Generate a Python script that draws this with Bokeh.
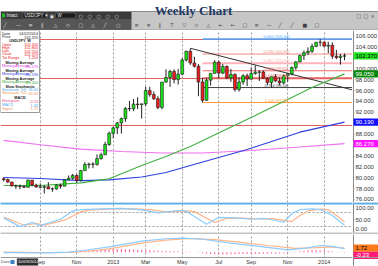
from bokeh.plotting import figure
from bokeh.models import (Range1d, FixedTicker, Grid, ColumnDataSource)
from bokeh.layouts import column, row
from bokeh.embed import file_html
from bokeh.resources import INLINE
from bokeh.core.properties import value

FONT = "Liberation Sans"

# ---------------- data (weekly USD/JPY bars, first bar = week of 2012-07-01) -------------
open_ = [79.80, 79.65, 79.20, 78.50, 78.45, 78.40, 78.25, 79.55, 78.65, 78.30,
         78.25, 78.35, 77.95, 77.95, 78.65, 78.45, 79.60, 79.90, 80.40, 79.50,
         81.30, 82.40, 82.50, 82.45, 83.50, 84.20, 86.10, 88.15, 89.15, 90.05,
         90.85, 92.70, 92.65, 93.50, 93.40, 93.55, 96.00, 95.25, 94.50, 92.90,
         97.55, 98.40, 99.50, 98.00, 99.00, 101.60, 103.20, 101.05, 100.45, 97.55,
         94.20, 97.90, 99.15, 101.20, 99.20, 100.40, 98.30, 98.95, 96.20, 97.55,
         98.70, 98.10, 99.10, 99.35, 99.40, 98.25, 97.45, 98.55, 97.75, 97.40,
         98.70, 99.05, 100.20, 101.25, 102.40, 102.95, 103.20, 104.10, 104.85, 104.85,
         104.15, 104.30, 102.30, 102.05, 102.30]
high = [80.05, 79.85, 79.25, 78.75, 78.75, 78.60, 79.65, 79.60, 78.90, 78.95,
        78.60, 79.20, 78.20, 78.80, 78.90, 79.70, 80.40, 80.70, 80.65, 81.45,
        82.85, 82.75, 82.85, 84.25, 84.60, 86.60, 88.45, 89.35, 90.25, 91.05,
        92.95, 94.10, 94.45, 94.75, 93.55, 96.70, 96.70, 95.80, 94.95, 97.55,
        99.90, 99.80, 99.90, 99.95, 101.95, 103.30, 103.75, 102.20, 100.85, 98.30,
        98.30, 99.15, 101.55, 101.50, 100.85, 100.60, 99.95, 99.15, 98.40, 99.00,
        99.10, 100.25, 100.60, 99.70, 99.70, 98.45, 98.60, 99.00, 98.45, 98.95,
        99.20, 100.40, 101.40, 102.60, 103.35, 103.90, 104.60, 104.85, 105.45, 105.00,
        104.95, 104.85, 103.45, 102.70, 102.80]
low = [79.30, 79.05, 78.40, 77.95, 77.90, 78.10, 78.20, 78.40, 78.15, 78.10,
       77.10, 77.95, 77.40, 77.80, 78.00, 78.45, 79.55, 79.65, 79.05, 79.30,
       81.30, 81.70, 81.75, 82.20, 83.30, 84.20, 85.85, 87.25, 88.00, 88.10,
       90.25, 92.20, 92.20, 92.60, 90.85, 93.10, 94.85, 94.25, 92.55, 92.55,
       97.45, 96.65, 97.30, 97.10, 98.80, 101.30, 100.70, 100.20, 94.95, 93.80,
       94.10, 96.90, 99.10, 98.20, 99.00, 98.10, 97.60, 95.80, 95.80, 97.05,
       96.80, 98.00, 98.90, 97.75, 98.20, 96.95, 96.55, 97.60, 96.95, 97.15,
       97.60, 98.80, 99.80, 101.20, 101.60, 102.50, 102.90, 103.95, 104.10, 103.90,
       102.85, 101.80, 101.75, 100.75, 101.55]
close = [79.65, 79.20, 78.50, 78.45, 78.40, 78.25, 79.55, 78.65, 78.30, 78.25,
         78.35, 77.95, 77.95, 78.65, 78.45, 79.60, 79.90, 80.40, 79.50, 81.30,
         82.40, 82.50, 82.45, 83.50, 84.20, 86.10, 88.15, 89.15, 90.05, 90.85,
         92.70, 92.65, 93.50, 93.40, 93.55, 96.00, 95.25, 94.50, 92.90, 97.55,
         98.40, 99.50, 98.00, 99.00, 101.60, 103.20, 101.05, 100.45, 97.55, 94.20,
         97.90, 99.15, 101.20, 99.20, 100.40, 98.30, 98.95, 96.20, 97.55, 98.70,
         98.10, 99.10, 99.35, 99.40, 98.25, 97.45, 98.55, 97.75, 97.40, 98.70,
         99.05, 100.20, 101.25, 102.40, 102.95, 103.20, 104.10, 104.85, 104.85, 104.15,
         104.30, 102.30, 102.05, 102.30, 102.37]

month_idx = [9, 18, 27, 35, 44, 53, 61, 70, 79]
month_lbl = ["Sep", "Nov", "2013", "Mar", "May", "Jul", "Sep", "Nov", "2014"]

price_ticks = [76, 78, 80, 82, 84, 88, 92, 94, 96, 98, 100, 104, 106]
stoch_ticks = [0, 50, 100]

# moving averages (read at bar indices)
ma_green_idx = [0, 9, 19, 26, 34, 40, 46, 62, 76, 84]
ma_green = [78.57, 78.57, 79.06, 79.80, 82.24, 83.89, 85.72, 91.41, 96.55, 99.05]
ma_blue_idx = [0, 9, 19, 26, 34, 40, 46, 60, 73, 84]
ma_blue = [80.04, 79.85, 79.48, 79.60, 80.13, 80.95, 82.24, 85.17, 88.35, 90.19]
ma_mag_idx = [0, 9, 19, 29, 39, 49, 61, 73, 84]
ma_mag = [86.86, 86.05, 85.25, 84.81, 84.53, 84.53, 84.99, 85.63, 86.27]

# horizontal lines
hlines = [105.30, 98.25, 89.60]
fib_start = 49
fib_levels = [105.44, 102.69, 100.99, 99.62, 98.24, 96.54, 93.79]
fib_ratio = ["0.000", "0.236", "0.382", "0.500", "0.618", "0.764", "1.000"]
trend_idx = [46, 86.0]
trend_val = [103.75, 96.10]

# slow stochastic
stoch_k_idx = [0, 4, 7, 9, 14, 17, 19, 24, 29, 34, 38, 43, 45, 50, 53, 57, 61, 64, 66, 69, 71, 73, 76, 78, 81, 84]
stoch_k = [58, 20, 38, 24, 52, 88, 94, 97, 99, 93, 80, 90, 87, 30, 60, 58, 52, 56, 51, 39, 76, 94, 97, 94, 68, 26]
stoch_d_idx = [0, 5, 8, 10, 15, 19, 21, 26, 31, 36, 40, 45, 47, 52, 55, 59, 63, 66, 68, 71, 73, 75, 78, 80, 83, 84]
stoch_d = [62, 26, 34, 26, 48, 84, 92, 96, 98, 94, 84, 88, 85, 38, 56, 57, 53, 55, 50, 42, 68, 88, 96, 94, 55, 40]

# MACD
macd_idx = [0, 10, 16, 20, 26, 34, 40, 44, 49, 56, 63, 70, 74, 78, 81, 84]
macd = [-0.2, -0.3, 0.0, 0.8, 2.2, 4.6, 5.6, 5.9, 5.4, 3.8, 2.4, 1.0, 1.6, 2.8, 2.4, 1.49]
sig_idx = [0, 10, 16, 20, 26, 34, 40, 46, 52, 58, 65, 72, 77, 81, 84]
signal = [0.0, -0.2, -0.1, 0.3, 1.4, 3.8, 5.0, 5.7, 5.2, 4.2, 2.8, 1.6, 1.9, 2.2, 1.72]
hist = [-0.1, -0.1, -0.1, -0.1, -0.1, -0.1, -0.1, -0.1, -0.1, -0.1,
        -0.1, -0.1, -0.1, 0.0, 0.0, 0.1, 0.1, 0.2, 0.3, 0.4,
        0.5, 0.6, 0.8, 0.9, 1.0, 1.1, 1.2, 1.3, 1.3, 1.3,
        1.2, 1.2, 1.1, 1.0, 0.9, 0.8, 0.8, 0.7, 0.6, 0.6,
        0.5, 0.5, 0.4, 0.4, 0.3, 0.2, 0.1, 0.0, -0.2, -0.4,
        -0.6, -0.8, -0.9, -1.0, -1.0, -1.0, -0.9, -0.9, -0.8, -0.8,
        -0.8, -0.7, -0.7, -0.7, -0.6, -0.6, -0.5, -0.5, -0.5, -0.4,
        -0.3, -0.1, 0.2, 0.4, 0.6, 0.8, 0.9, 0.9, 0.8, 0.7,
        0.5, 0.3, 0.1, -0.1, -0.23]

# ---------------- geometry ----------------
W_FRAME = 352
W_SIDE = 26
XL, XR = -0.79, 85.97
PY_TOP, PY_BOT = 107.01, 75.45          # price panel, 172 px tall
ST_TOP, ST_BOT = 116.1, -5.65           # stochastic plotting band, 28 px tall
ST_PPU = 28.0 / (ST_TOP - ST_BOT)
ST_RANGE_TOP = ST_TOP + 2.0 / ST_PPU     # 2 px blue separator above
ST_RANGE_BOT = ST_BOT - 2.0 / ST_PPU     # 2 px grey separator below
M_TOP, M_BOT = 7.375, -2.21             # MACD plotting band, 23 px tall
M_PPU = 23.0 / (M_TOP - M_BOT)
M_RANGE_BOT = M_BOT - 9.0 / M_PPU       # 9 px time strip below
x_range = Range1d(XL, XR)


def px2i(px):
    return XL + px * (XR - XL) / W_FRAME


def py2p(py):  # price panel: page y -> price
    return PY_TOP - (py - 30) * (PY_TOP - PY_BOT) / 172.0


def plain(fw, fh, xr, yr, bg="white"):
    return figure(frame_width=fw, frame_height=fh, x_range=xr, y_range=yr,
                  x_axis_type=None, y_axis_type=None, output_backend="svg",
                  toolbar_location=None, min_border=0, outline_line_color=None,
                  background_fill_color=bg, border_fill_color=bg)


def base_fig(frame_h, yr):
    f = plain(W_FRAME, frame_h, x_range, yr)
    f.add_layout(Grid(dimension=0, ticker=FixedTicker(ticks=month_idx), grid_line_color="#9c9c9c",
                      grid_line_dash="2 2", grid_line_width=1))
    return f


def side_fig(frame_h, yr, ticks, labels, boxes, px_per_unit, lo_lim, hi_lim):
    """Right-hand value scale: tick labels and coloured value boxes."""
    f = plain(W_SIDE, frame_h, Range1d(0, W_SIDE), yr)
    f.vspan(x=[0.5], line_color="#8a8a8a", line_width=1)
    if ticks:
        lo = lo_lim + 3.2 / px_per_unit
        hi = hi_lim - 3.2 / px_per_unit
        ly = [min(max(v, lo), hi) for v in ticks]
        f.segment(x0=[0.5] * len(ticks), x1=[1.8] * len(ticks), y0=ticks, y1=ticks,
                  line_color="#8a8a8a", line_width=1)
        f.text(x=[3] * len(ticks), y=ly, text=labels, text_font=value(FONT),
               text_font_size="6px", text_color="#333333", text_baseline="middle",
               text_align="left")
    hh = 3.6 / px_per_unit
    for v, t, bg, fg in boxes:
        f.quad(left=[1], right=[W_SIDE], top=[v + hh], bottom=[v - hh], fill_color=bg,
               line_color=None)
        f.text(x=[3], y=[v], text=[t], text_font=value(FONT), text_font_size="6px",
               text_color=fg, text_baseline="middle", text_align="left")
    return f


# ---------------- header (title + toolbar) ----------------
hdr = plain(378, 30, Range1d(0, 378), Range1d(30, 0))
hdr.quad(left=[0], right=[378], top=[10.5], bottom=[29.5], fill_color="#c6c6c6", line_color=None)
hdr.quad(left=[0], right=[378], top=[10.5], bottom=[11.5], fill_color="#8c8c8c", line_color=None)
hdr.quad(left=[0], right=[131], top=[11.5], bottom=[18.5], fill_color="#3a3a3a", line_color=None)
hdr.quad(left=[0], right=[131], top=[18.5], bottom=[29.5], fill_color="#565656", line_color=None)
hdr.quad(left=[22, 55], right=[47, 75], top=[12.5, 12.5], bottom=[17.5, 17.5],
         fill_color="#1c1c1c", line_color="#777777", line_width=0.5)
hdr.quad(left=[0], right=[378], top=[29.2], bottom=[30], fill_color="#7a7a7a", line_color=None)
hdr.text(x=[193], y=[10], text=["Weekly Chart"], text_font=value("Liberation Serif"),
         text_font_style="bold", text_font_size="13px", text_color="#1f3864",
         text_align="center", text_baseline="alphabetic")
hdr.text(x=[6, 24, 57], y=[15.2, 15.2, 15.2], text=["Intact", "USD/JPY \u25be", "W"],
         text_font=value(FONT), text_font_size="4.5px", text_color="#e8e8e8",
         text_baseline="middle")
hdr.quad(left=[1.5], right=[4.5], top=[13], bottom=[17], fill_color="#22bb22", line_color=None)
icons1 = ["\u25a3", "\u25cb", "\u25cb", "\u25cb", "\u25cb", "\u25cb"]
hdr.text(x=[49, 78, 87, 96, 105, 114], y=[15.2] * 6, text=icons1, text_font=value("DejaVu Sans"),
         text_font_size="5px", text_color="#dddddd", text_baseline="middle")
icons2 = ["\u2571", "\u2014", "\u2261", "\u2016", "\u25b3", "\u25c7", "\u25a1", "\u25b3", "\u2571", "\u25cb"]
hdr.text(x=[3 + 12.5 * k for k in range(10)], y=[24.5] * 10, text=icons2,
         text_font=value("DejaVu Sans"), text_font_size="5px", text_color="#dddddd",
         text_baseline="middle")
icons3 = ["\u2261", "\u2261", "\u2016", "T", "\u25bd", "\u25c7", "\u25b3", "\u2190", "\u2190",
          "\u25a1", "\u2261", "\u2014", "\u2571", "\u2571", "\u25a0", "\u25a1"]
hdr.text(x=[134 + 12 * k for k in range(16)], y=[24.5] * 16, text=icons3,
         text_font=value("DejaVu Sans"), text_font_size="5px", text_color="#404040",
         text_baseline="middle")
hdr.text(x=[356, 363, 370], y=[15, 15, 15], text=["\u25a1", "\u25a1", "\u00d7"],
         text_font=value("DejaVu Sans"), text_font_size="5px", text_color="#404040",
         text_baseline="middle")

# ---------------- price panel ----------------
py_range = Range1d(PY_BOT, PY_TOP)
p = base_fig(172, py_range)

p.hspan(y=hlines, line_color="#e06060", line_width=1)
fib_colors = ["#4da6ff", "#f08a80", "#ffb3bd", "#ef6a6a", "#e86060", "#404040", "#ff9a33"]
fib_widths = [1.5, 1, 2, 1, 2, 1, 1]
fsrc = ColumnDataSource(dict(x0=[fib_start] * 7, x1=[XR + 1] * 7, y=fib_levels,
                             c=fib_colors, w=fib_widths,
                             t=[f"{r} ({v:.2f})" for r, v in zip(fib_ratio, fib_levels)],
                             tx=[px2i(276)] * 7))
p.segment(x0="x0", y0="y", x1="x1", y1="y", line_color="c", line_width="w", source=fsrc)
p.line(trend_idx, trend_val, line_color="#333333", line_width=1)

p.line(ma_mag_idx, ma_mag, line_color="#f070f0", line_width=1.2)
p.line(ma_blue_idx, ma_blue, line_color="#3040e0", line_width=1.2)
p.line(ma_green_idx, ma_green, line_color="#44b044", line_width=1.2)

idx = list(range(len(close)))
up = [c >= o for o, c in zip(open_, close)]
csrc = ColumnDataSource(dict(x=idx, o=open_, h=high, l=low, c=close,
                             top=[max(o, c) for o, c in zip(open_, close)],
                             bot=[min(o, c) for o, c in zip(open_, close)],
                             col=["#19e019" if u else "#ee1c1c" for u in up]))
p.segment(x0="x", y0="l", x1="x", y1="h", line_color="#222222", line_width=1, source=csrc)
p.vbar(x="x", top="top", bottom="bot", width=0.7, fill_color="col", line_color="#1a1a1a",
       line_width=0.6, source=csrc)

p.text(x="tx", y="y", text="t", text_color="c", text_font=value(FONT), text_font_size="4px",
       text_align="center", text_baseline="bottom", source=fsrc)

# info panel (top-left)
p.quad(left=[XL], right=[px2i(39)], top=[PY_TOP], bottom=[py2p(112)], fill_color="white",
       line_color="#9a9a9a", line_width=1)
rows = [
    ("Date", "14/02/2014", "#222222", 33.5),
    ("Price", f"{close[-1]:.3f}", "#222222", 36.8),
    ("USD/JPY, W", None, "#222222", 40.6),
    ("Open", f"{open_[-1]:.3f}", "#ee2222", 44.0),
    ("High", f"{high[-1]:.3f}", "#ee2222", 47.3),
    ("Low", f"{low[-1]:.3f}", "#ee2222", 50.6),
    ("Close", f"{close[-1]:.3f}", "#ee2222", 53.9),
    ("Tot Range", f"{high[-1] - low[-1]:.3f}", "#ee2222", 57.2),
    ("Moving Average", None, "#222222", 62.0),
    ("Moving Average", f"{ma_mag[-1]:.3f}", "#e040e0", 65.5),
    ("Moving Average", None, "#222222", 70.0),
    ("Moving Average", f"{ma_blue[-1]:.3f}", "#3040e0", 73.5),
    ("Moving Average", None, "#222222", 78.0),
    ("Moving Average", f"{ma_green[-1]:.3f}", "#33aa33", 81.5),
    ("Slow Stochastic", None, "#222222", 86.0),
    ("Stochastic %K", f"{stoch_k[-1]:.2f}", "#4aa8f0", 89.4),
    ("Stochastic %D", f"{stoch_d[-1]:.2f}", "#f09050", 92.8),
    ("MACD", None, "#222222", 97.3),
    ("Histogram", f"{hist[-1]:.2f}", "#f0508a", 100.8),
    ("MACD", f"{macd[-1]:.2f}", "#4aa8f0", 104.5),
    ("Signal", f"{signal[-1]:.2f}", "#f09050", 108.3),
]
lx, lt, lc, ly = [], [], [], []
vx, vt, vc, vy = [], [], [], []
hx, ht, hy = [], [], []
for name, val, col, py in rows:
    if val is None:
        hx.append(px2i(19.5)); ht.append(name); hy.append(py2p(py))
    else:
        lx.append(px2i(1.5)); lt.append(name); lc.append(col); ly.append(py2p(py))
        vx.append(px2i(37.5)); vt.append(val); vc.append(col); vy.append(py2p(py))
p.text(x=lx, y=ly, text=lt, text_color=lc, text_font=value(FONT), text_font_size="3.8px",
       text_baseline="middle", text_align="left")
p.text(x=vx, y=vy, text=vt, text_color=vc, text_font=value(FONT), text_font_size="3.8px",
       text_baseline="middle", text_align="right")
p.text(x=hx, y=hy, text=ht, text_color="#222222", text_font=value(FONT), text_font_size="3.8px",
       text_font_style="bold", text_baseline="middle", text_align="center")

ps = side_fig(172, py_range, price_ticks, [f"{t:.3f}" for t in price_ticks],
              [(close[-1], f"{close[-1]:.3f}", "#22e622", "black"),
               (ma_green[-1], f"{ma_green[-1]:.3f}", "#0a8a0a", "white"),
               (ma_blue[-1], f"{ma_blue[-1]:.3f}", "#1010ff", "white"),
               (ma_mag[-1], f"{ma_mag[-1]:.3f}", "#ff10ff", "white")],
              172.0 / (PY_TOP - PY_BOT), PY_BOT, PY_TOP)

# ---------------- stochastic panel (with separators above/below) ----------------
st_range = Range1d(ST_RANGE_BOT, ST_RANGE_TOP)
s = base_fig(32, st_range)
s.add_layout(Grid(dimension=1, ticker=FixedTicker(ticks=[20, 80]), grid_line_color="#9c9c9c",
                  grid_line_dash="2 2", grid_line_width=1))
s.line(stoch_d_idx, stoch_d, line_color="#ffb48a", line_width=1.2)
s.line(stoch_k_idx, stoch_k, line_color="#8cccff", line_width=1.2)
ss = side_fig(32, st_range, stoch_ticks, [f"{t:.2f}" for t in stoch_ticks], [],
              ST_PPU, ST_BOT, ST_TOP)
for f, x0, x1 in ((s, XL - 1, XR + 1), (ss, -1, W_SIDE + 1)):
    f.quad(left=[x0], right=[x1], top=[ST_RANGE_TOP + 1], bottom=[ST_TOP],
           fill_color="#5aaee8", line_color=None)
    f.quad(left=[x0], right=[x1], top=[ST_BOT], bottom=[ST_RANGE_BOT - 1],
           fill_color="#c4c4c4", line_color=None)

# ---------------- MACD panel (with time strip below) ----------------
m_range = Range1d(M_RANGE_BOT, M_TOP)
m = base_fig(32, m_range)
m.vbar(x=idx, top=hist, bottom=0, width=0.3, fill_color="#ff6fa8", line_color=None)
m.line(sig_idx, signal, line_color="#ffb48a", line_width=1.2)
m.line(macd_idx, macd, line_color="#8cccff", line_width=1.2)
ms = side_fig(32, m_range, [], [],
              [(signal[-1], f"{signal[-1]:.2f}", "#ff7a1a", "black"),
               (signal[-1] - 7.4 / M_PPU, f"{hist[-1]:.2f}", "#ff1a7a", "white")],
              M_PPU, M_BOT, M_TOP)

# time strip
strip_mid = M_BOT - 4.3 / M_PPU
m.quad(left=[XL - 1], right=[XR + 1], top=[M_BOT], bottom=[M_RANGE_BOT - 1],
       fill_color="white", line_color=None)
m.hspan(y=[M_BOT], line_color="#9a9a9a", line_width=1)
m.text(x=month_idx, y=[strip_mid] * len(month_idx), text=month_lbl, text_font=value(FONT),
       text_font_size="5.5px", text_color="#333333", text_align="center", text_baseline="middle")
m.quad(left=[px2i(16.5)], right=[px2i(37.5)], top=[M_BOT - 1.0 / M_PPU],
       bottom=[M_BOT - 8.0 / M_PPU], fill_color="#2e2e2e", line_color="#777777", line_width=0.5)
m.text(x=[px2i(17.5)], y=[strip_mid], text=["10/09/2012"], text_font=value(FONT),
       text_font_size="4.2px", text_color="white", text_baseline="middle", text_align="left")
m.text(x=[px2i(0.5)], y=[strip_mid], text=["Date"], text_font=value(FONT),
       text_font_size="4.2px", text_color="#555555", text_baseline="middle", text_align="left")
m.quad(left=[px2i(10)], right=[px2i(14)], top=[M_BOT - 2.5 / M_PPU],
       bottom=[M_BOT - 6.5 / M_PPU], fill_color="#3b7fc4", line_color=None)
ms.segment(x0=[0], x1=[W_SIDE], y0=[M_BOT], y1=[M_BOT], line_color="#9a9a9a", line_width=1)

layout = column(hdr, row(p, ps, spacing=0), row(s, ss, spacing=0),
                row(m, ms, spacing=0), spacing=0)
open("out.html", "w").write(file_html(layout, INLINE))
